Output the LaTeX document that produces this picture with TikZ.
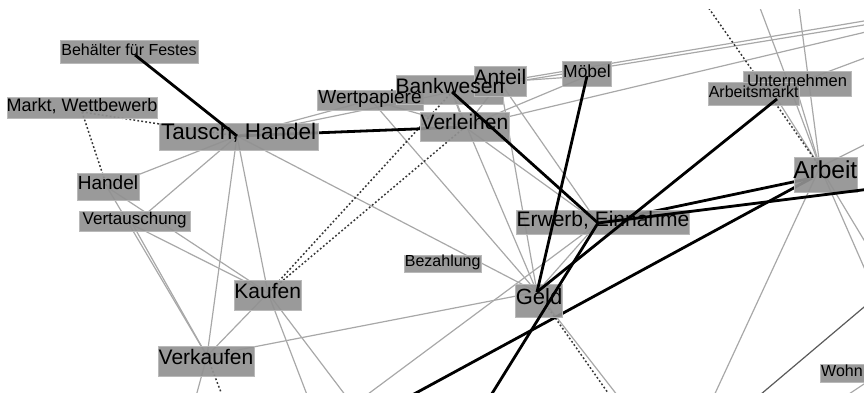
\documentclass[tikz,border=0pt]{standalone}
\usepackage{fontspec}
\setmainfont{Liberation Sans}
\begin{document}
\begin{tikzpicture}[x=1pt,y=-1pt,
  box/.style={fill={rgb,255:red,145;green,145;blue,145}, fill opacity=0.92,
    draw={rgb,255:red,185;green,185;blue,185}, line width=0.4pt, inner sep=0pt},
  txt/.style={inner sep=0pt, text=black, text height=0.716em, text depth=0pt},
  weak/.style={draw={rgb,255:red,168;green,168;blue,168}, line width=1.2pt},
  strong/.style={draw=black, line width=2.8pt},
  dotlink/.style={draw={rgb,255:red,55;green,55;blue,55}, line width=1.5pt, dash pattern=on 1.8pt off 2.2pt},
]
\useasboundingbox (0,0) rectangle (864,393);

% node positions
\coordinate (bf) at (135,55);
\coordinate (mw) at (82,112);
\coordinate (th) at (237,136);
\coordinate (ha) at (107,187);
\coordinate (vt) at (133,225);
\coordinate (ka) at (268,293);
\coordinate (vk) at (207,356);
\coordinate (wp) at (371,100);
\coordinate (bw) at (452,92);
\coordinate (an) at (500,82);
\coordinate (vl) at (465,127);
\coordinate (mo) at (587,76);
\coordinate (un) at (795,84);
\coordinate (am) at (777,99);
\coordinate (ar) at (820,167);
\coordinate (arS) at (812,178);
\coordinate (ew) at (598,223);
\coordinate (bz) at (442,263);
\coordinate (ge) at (537,292);
\coordinate (wo) at (842,373);

% neighbours outside the frame
\coordinate (xVkS) at (195,400);
\coordinate (xVkD) at (224,400);
\coordinate (xKaS) at (309,400);
\coordinate (xKaE) at (349,400);
\coordinate (xEwS) at (360,400);
\coordinate (xEwT) at (488,400);
\coordinate (xGeS) at (621,400);
\coordinate (xGeD) at (613,400);
\coordinate (xArL) at (403,400);
\coordinate (xArT1) at (703,0);
\coordinate (xArT2) at (757,0);
\coordinate (xArT3) at (798,0);
\coordinate (xArR) at (870,142);
\coordinate (xArB) at (712,400);
\coordinate (xArD) at (870,281);
\coordinate (xArF) at (870,250);
\coordinate (xEwR) at (870,189);
\coordinate (xUnR) at (870,56);
\coordinate (xAnR) at (870,20);
\coordinate (xBwR) at (870,24);
\coordinate (xVlR) at (870,31);
\coordinate (xWa) at (870,302);
\coordinate (xWb) at (754,400);
\coordinate (xWc) at (840,400);
\coordinate (xWd) at (870,380);

\begin{scope}
\clip (0,10) rectangle (864,393);
% light links
\draw[weak] (ha) -- (th);
\draw[weak] (vt) -- (th);
\draw[weak] (th) -- (vk);
\draw[weak] (th) -- (ka);
\draw[weak] (th) -- (wp);
\draw[weak] (th) -- (bw);
\draw[weak] (th) -- (ge);
\draw[weak] (ha) -- (ka);
\draw[weak] (vt) -- (ka);
\draw[weak] (ha) -- (vk);
\draw[weak] (vt) -- (vk);
\draw[weak] (ka) -- (vk);
\draw[weak] (vk) -- (ge);
\draw[weak] (vk) -- (xVkS);
\draw[weak] (ka) -- (xKaS);
\draw[weak] (ka) -- (xKaE);
\draw[weak] (wp) -- (ge);
\draw[weak] (wp) -- (vl);
\draw[weak] (bw) -- (ge);
\draw[weak] (an) -- (ge);
\draw[weak] (an) -- (ew);
\draw[weak] (bw) -- (vl);
\draw[weak] (an) -- (vl);
\draw[weak] (vl) -- (ew);
\draw[weak] (vl) -- (mo);
\draw[weak] (an) -- (mo);
\draw[weak] (an) -- (xAnR);
\draw[weak] (bw) -- (xBwR);
\draw[weak] (vl) -- (xVlR);
\draw[weak] (ew) -- (ge);
\draw[weak] (ew) -- (xEwS);
\draw[weak] (ge) -- (xGeS);
\draw[weak] (am) -- (ar);
\draw[weak] (un) -- (ar);
\draw[weak] (un) -- (xUnR);
\draw[weak] (ar) -- (xArT2);
\draw[weak] (ar) -- (xArT3);
\draw[weak] (ar) -- (xArR);
\draw[weak] (ar) -- (xArB);
\draw[weak] (ar) -- (xArD);
\draw[weak] (ar) -- (xArF);
\draw[weak, draw={rgb,255:red,90;green,90;blue,90}] (xWa) -- (xWb);
\draw[weak] (xWc) -- (xWd);
% dotted links
\draw[dotlink] (mw) -- (th);
\draw[dotlink] (mw) -- (ha);
\draw[dotlink] (ka) -- (bw);
\draw[dotlink] (ka) -- (vl);
\draw[dotlink] (vk) -- (xVkD);
\draw[dotlink] (ge) -- (xGeD);
\draw[dotlink] (ar) -- (xArT1);
% strong links that pass under their end label
\draw[strong] (th) -- (vl);
\draw[strong] (ew) -- (arS);
\draw[strong] (arS) -- (xArL);
\end{scope}

% label boxes
\node[box, minimum width=138pt, minimum height=23pt] (bfB) at (129,51.5) {};
\node[box, minimum width=150pt, minimum height=21pt] (mwB) at (82,107.5) {};
\node[box, minimum width=159pt, minimum height=27pt] (thB) at (238.7,136.3) {};
\node[box, minimum width=62pt, minimum height=27pt] (haB) at (108,186.3) {};
\node[box, minimum width=111pt, minimum height=19.5pt] (vtB) at (134.7,221.3) {};
\node[box, minimum width=67pt, minimum height=30pt] (kaB) at (267.7,295) {};
\node[box, minimum width=96pt, minimum height=30pt] (vkB) at (206,361) {};
\node[box, minimum width=106pt, minimum height=19.5pt] (wpB) at (370,100) {};
\node[box, minimum width=107pt, minimum height=29pt] (bwB) at (450,89.5) {};
\node[box, minimum width=52pt, minimum height=30pt] (anB) at (500,81) {};
\node[box, minimum width=89pt, minimum height=29pt] (vlB) at (464.5,126.3) {};
\node[box, minimum width=49pt, minimum height=25pt] (moB) at (587,73.5) {};
\node[box, minimum width=108pt, minimum height=25pt] (unB) at (797,83.3) {};
\node[box, minimum width=91pt, minimum height=23pt] (amB) at (753.7,94) {};
\node[box, minimum width=63pt, minimum height=35pt] (arB) at (825.3,175) {};
\node[box, minimum width=173pt, minimum height=24pt] (ewB) at (603,222.5) {};
\node[box, minimum width=77pt, minimum height=17pt] (bzB) at (442.7,263.3) {};
\node[box, minimum width=47pt, minimum height=32.7pt] (geB) at (539,301) {};
\node[box, minimum width=46pt, minimum height=18pt] (woB) at (843,373) {};

% strong links drawn over the boxes
\begin{scope}
\clip (0,10) rectangle (864,393);
\draw[strong] (bf) -- (th);
\draw[strong] (bw) -- (ew);
\draw[strong] (mo) -- (ge);
\draw[strong] (am) -- (ge);
\draw[strong] (ew) -- (xEwT);
\draw[strong] (ew) -- (xEwR);
\end{scope}

% label texts
\node[txt, font=\fontsize{16}{16}\selectfont] (bfL) at (bfB) {Behälter für Festes};
\node[txt, font=\fontsize{18}{18}\selectfont] (mwL) at (mwB) {Markt, Wettbewerb};
\node[txt, font=\fontsize{22.5}{22.5}\selectfont] (thL) at (thB) {Tausch, Handel};
\node[txt, font=\fontsize{19}{19}\selectfont] (haL) at (haB) {Handel};
\node[txt, font=\fontsize{17}{17}\selectfont] (vtL) at (vtB) {Vertauschung};
\node[txt, font=\fontsize{21}{21}\selectfont] (kaL) at (kaB) {Kaufen};
\node[txt, font=\fontsize{21}{21}\selectfont] (vkL) at (vkB) {Verkaufen};
\node[txt, font=\fontsize{19}{19}\selectfont] (wpL) at (wpB) {Wertpapiere};
\node[txt, font=\fontsize{21}{21}\selectfont] (bwL) at (bwB) {Bankwesen};
\node[txt, font=\fontsize{21}{21}\selectfont] (anL) at (anB) {Anteil};
\node[txt, font=\fontsize{21}{21}\selectfont] (vlL) at (vlB) {Verleihen};
\node[txt, font=\fontsize{17.5}{17.5}\selectfont] (moL) at (moB) {Möbel};
\node[txt, font=\fontsize{16.5}{16.5}\selectfont] (unL) at (unB) {Unternehmen};
\node[txt, font=\fontsize{16}{16}\selectfont] (amL) at (amB) {Arbeitsmarkt};
\node[txt, font=\fontsize{24.5}{24.5}\selectfont] (arL) at (arB) {Arbeit};
\node[txt, font=\fontsize{21}{21}\selectfont] (ewL) at (ewB) {Erwerb, Einnahme};
\node[txt, font=\fontsize{16}{16}\selectfont] (bzL) at (bzB) {Bezahlung};
\node[txt, font=\fontsize{22}{22}\selectfont] (geL) at (geB) {Geld};
\node[txt, font=\fontsize{16}{16}\selectfont, anchor=west] (woL) at (821,373) {Wohn};
\end{tikzpicture}
\end{document}
